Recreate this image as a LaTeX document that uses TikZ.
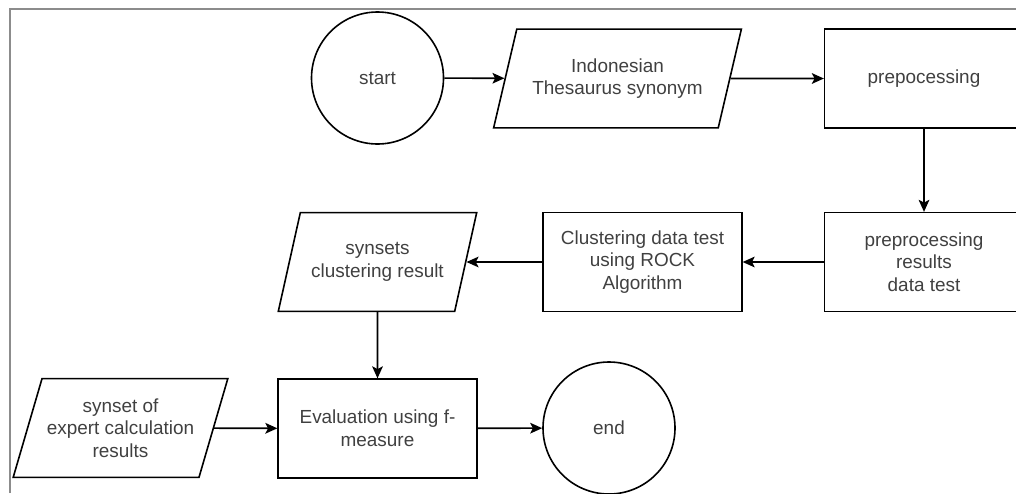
\documentclass[tikz,border=0pt]{standalone}
\usepackage{fontspec}
\setmainfont{Liberation Sans}
\usepackage{tikz}
\usetikzlibrary{arrows.meta}
\usetikzlibrary{shapes.geometric}

\begin{document}
\begin{tikzpicture}[x=0.75pt, y=-0.75pt, line width=1.2pt, >={Stealth[length=9pt, width=8pt, inset=2pt]},
               font=\fontsize{14.2}{17}\selectfont]
               \tikzstyle{myCir}=[circle, draw, minimum size=99pt, inner sep=0pt, text=black!75]
               \tikzstyle{myBox}=[rectangle, draw, minimum width=149pt, minimum height=74pt, align=center, text=black!75]
               \tikzstyle{myPar}=[trapezium, trapezium left angle=68, trapezium right angle=112,
                        trapezium stretches=true, draw, minimum height=74pt, inner xsep=1pt, align=center, text=black!75]

               \useasboundingbox (0,0) rectangle (1016,493);
               \draw[black!45, line width=1.5pt] (10,493) -- (10,9) -- (1016,9);

               \node[myCir] (start) at (377.5,78) {start};
               \node[myPar, minimum width=186pt] (thesaurus) at (617.5,78.5) {Indonesian\\Thesaurus synonym} edge[<-] (start);
               \node[myBox] (prep) at (924,78.5) {prepocessing} edge[<-] (thesaurus);
               \node[myBox] (prepres) at (924,262) {preprocessing\\results\\data test} edge[<-] (prep);
               \node[myBox] (rock) at (642.5,262) {Clustering data test\\using ROCK\\Algorithm} edge[<-] (prepres);
               \node[myPar, minimum width=149pt] (synsets) at (377.5,262) {synsets\\clustering result} edge[<-] (rock);
               \node[myBox] (eval) at (377.5,428.5) {Evaluation using f-\\measure} edge[<-] (synsets);
               \node[myPar, minimum width=161pt] (expert) at (120.5,428) {synset of\\expert calculation\\results} edge[->] (eval);
               \node[myCir] (end) at (609,428) {end} edge[<-] (eval);
            \end{tikzpicture}
\end{document}
